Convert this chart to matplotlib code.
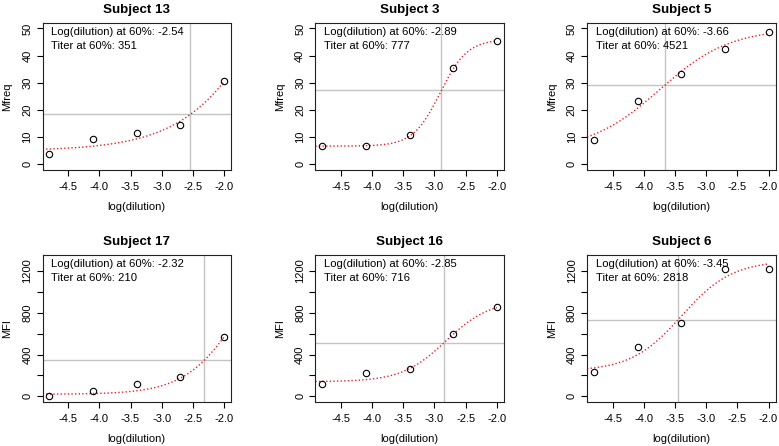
import numpy as np
import matplotlib
matplotlib.use("Agg")
from matplotlib import pyplot as plt

plt.rcParams["font.family"] = ["Liberation Sans", "DejaVu Sans"]

# dilution steps shared by every subject
log_dilution = [-4.8, -4.1, -3.4, -2.7, -2.0]

subjects = ["Subject 13", "Subject 3", "Subject 5", "Subject 17", "Subject 16", "Subject 6"]
ylabels = ["Mfreq", "Mfreq", "Mfreq", "MFI", "MFI", "MFI"]

# observed responses
resp_13 = [3.7, 9.3, 11.5, 14.6, 30.6]
resp_3 = [6.8, 6.8, 10.9, 35.4, 45.3]
resp_5 = [9.0, 23.4, 33.4, 42.6, 48.7]
resp_17 = [2, 51, 121, 182, 572]
resp_16 = [118, 221, 265, 601, 852]
resp_6 = [231, 475, 705, 1222, 1222]
responses = [resp_13, resp_3, resp_5, resp_17, resp_16, resp_6]

# reported values at 60 %
log60 = [-2.54, -2.89, -3.66, -2.32, -2.85, -3.45]
titer60 = [351, 777, 4521, 210, 716, 2818]

# four-parameter logistic fit (bottom, top, hill slope)
fit_bottom = [5.0, 6.7, 5.0, 20.0, 140.0, 240.0]
fit_top = [140.6, 46.0, 50.0, 1529.0, 920.0, 1300.0]
fit_hill = [0.6, 2.0, 0.77, 1.0, 1.23, 1.07]

ylims = {"Mfreq": (0, 50), "MFI": (0, 1300)}
yticks = {"Mfreq": np.arange(0, 51, 10), "MFI": np.arange(0, 1201, 200)}

W, H = 779, 446
fig = plt.figure(figsize=(W / 100, H / 100), dpi=100)

lefts = [42.5, 315.3, 587.0]
tops = [23.0, 255.0]
bw, bh = 188.5, 146.8

xmin, xmax = -4.8, -2.0
xpad = 0.04 * (xmax - xmin)

for i, name in enumerate(subjects):
    r, c = divmod(i, 3)
    ax = fig.add_axes([lefts[c] / W, 1 - (tops[r] + bh) / H, bw / W, bh / H])
    yl = ylabels[i]
    lo, hi = ylims[yl]
    ypad = 0.04 * (hi - lo)
    ax.set_xlim(xmin - xpad, xmax + xpad)
    ax.set_ylim(lo - ypad, hi + ypad)

    y = np.array(responses[i], dtype=float)
    y60 = 0.6 * y.max()
    b, t, h = fit_bottom[i], fit_top[i], fit_hill[i]
    e = log60[i] + np.log10((t - b) / (y60 - b) - 1) / h
    xs = np.linspace(xmin - xpad, xmax, 300)
    ys = b + (t - b) / (1 + 10 ** (h * (e - xs)))

    ax.axhline(y60, color="#c4c4c4", lw=1.0, zorder=1)
    ax.axvline(log60[i], color="#c4c4c4", lw=1.0, zorder=1)
    ax.plot(xs, ys, color="#e8202a", lw=1.0, dashes=(1, 1.6), zorder=2)
    ax.plot(log_dilution, y, "o", mfc="none", mec="black", ms=4.6, mew=0.8, zorder=3)

    ax.set_xticks(np.arange(-4.5, -1.99, 0.5))
    ax.set_xticklabels([f"{v:.1f}" for v in np.arange(-4.5, -1.99, 0.5)])
    yt = yticks[yl]
    ax.set_yticks(yt)
    if yl == "MFI":
        lbls = [str(v) if v % 400 == 0 else "" for v in yt]
    else:
        lbls = [str(v) for v in yt]
    ax.set_yticklabels(lbls, rotation=90, va="center")
    ax.tick_params(axis="both", labelsize=8, length=4.3, width=0.8, color="black")
    ax.tick_params(axis="x", pad=4.5)
    ax.tick_params(axis="y", pad=3)
    for s in ax.spines.values():
        s.set_linewidth(0.8)
        s.set_color("#222222")

    ax.text(0.5, 1 + 10.5 / bh, name, transform=ax.transAxes, ha="center",
            va="baseline", fontsize=9.6, fontweight="bold")
    ax.text(-35 / bw, 0.5, yl, transform=ax.transAxes, rotation=90,
            ha="center", va="center", fontsize=8)
    ax.text(0.5, -37 / bh, "log(dilution)", transform=ax.transAxes,
            ha="center", va="center", fontsize=8)
    ax.text(8.5 / bw, 1 - 9.4 / bh, f"Log(dilution) at 60%: {log60[i]:.2f}",
            transform=ax.transAxes, ha="left", va="center", fontsize=8.1)
    ax.text(8.5 / bw, 1 - 22.7 / bh, f"Titer at 60%: {titer60[i]}",
            transform=ax.transAxes, ha="left", va="center", fontsize=8.1)

fig.savefig("out.png", dpi=100)
